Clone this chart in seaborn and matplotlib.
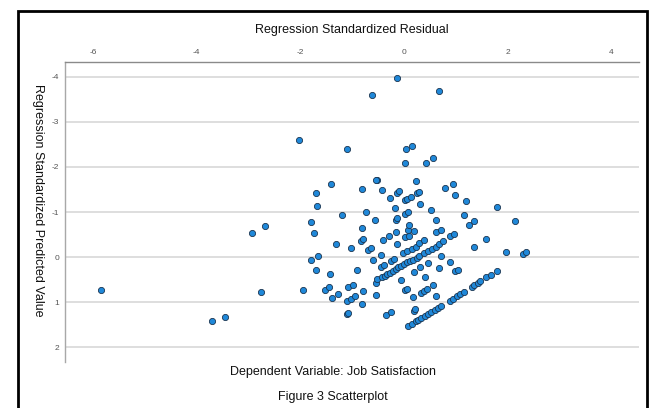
import matplotlib
matplotlib.use("Agg")
import matplotlib.pyplot as plt
import matplotlib.patches as mpatches
import seaborn as sns
import pandas as pd

# Regression Standardized Residual (x) and Regression Standardized Predicted Value (y)
residual = [
    -5.85, -3.71, -3.46, -2.93, -2.68, -2.76, -2.03, -0.62, -0.14, 0.68,
    -1.10, 0.05, 0.15, 0.02, -1.41, -1.69, -1.68, -1.19, -1.80, -1.73,
    -0.80, -0.52, -0.54, -0.42, -0.73, -0.56, -0.81, -1.31, -1.02, -0.83,
    -0.78, -0.70, -0.63, -1.80, -1.66, -1.70, -1.43, -1.95, -1.53, -1.45,
    -1.39, -1.27, -1.08, -0.99, -1.09, -1.02, -0.94, -0.91, -0.80, -0.78,
    -1.09, -1.08, -0.53, -0.54, -0.35, -0.24, -0.60, -0.45, -0.40, -0.28,
    -0.27, -0.14, -0.10, -0.17, -0.16, -0.13, -0.16, -0.13, -0.24, -0.19,
    -0.44, -0.38, -0.06, 0.02, 0.06, 0.17, 0.19, 0.19, 0.22, 0.08,
    0.20, 0.02, 0.10, 0.02, 0.08, 0.10, 0.02, 0.06, 0.13, 0.23,
    0.26, 0.29, -0.01, 0.06, 0.15, 0.23,
    -0.52, -0.43, -0.37, -0.32, -0.27, -0.21, -0.15, -0.11, -0.06, 0.01,
    0.06, 0.12, 0.18, 0.25, 0.30, 0.39, 0.47, 0.55, 0.62, 0.68, 0.75,
    0.42, 0.57, 0.32, 0.53, 0.63, 0.62, 0.71, 0.30, 0.39, 0.90,
    0.97, 0.71, 0.32, 0.47, 0.41, 0.68, 0.89, 0.98, 1.04, 0.57,
    0.33, 0.39, 0.45, 0.62,
    0.08, 0.15, 0.23, 0.28, 0.34, 0.41, 0.47, 0.53, 0.60, 0.66, 0.71,
    0.89, 0.95, 1.02, 1.08, 1.16, 1.31, 1.35, 1.43, 1.47, 1.58, 1.69, 1.80,
    0.80, 0.94, 0.98, 1.20, 1.16, 1.25, 1.35, 1.35, 1.58, 1.80,
    2.14, 1.97, 2.30, 2.36,
]
predicted = [
    0.74, 1.43, 1.32, -0.54, -0.70, 0.77, -2.59, -3.59, -3.97, -3.68,
    -2.41, -2.40, -2.46, -2.08, -1.63, -1.43, -1.14, -0.93, -0.78, -0.54,
    -1.51, -1.72, -1.70, -1.48, -0.99, -0.83, -0.65, -0.28, -0.21, -0.36,
    -0.40, -0.16, -0.21, 0.06, -0.03, 0.28, 0.37, 0.74, 0.73, 0.67,
    0.91, 0.82, 0.67, 0.61, 0.97, 0.92, 0.86, 0.28, 1.05, 0.75,
    1.26, 1.24, 0.85, 0.58, 1.29, 1.21, 0.06, -0.05, -0.38, -0.46,
    -1.32, -1.43, -1.46, -1.10, -0.83, -0.86, -0.55, -0.28, 0.08, 0.04,
    0.23, 0.18, 0.52, 0.74, 0.71, 0.89, 0.34, 1.19, 1.15, -0.59,
    -0.57, -0.44, -0.46, -0.96, -1.01, -0.72, -1.26, -1.28, -1.33, -1.68,
    -1.42, -1.44, -0.08, -0.13, -0.19, -0.23,
    0.48, 0.45, 0.42, 0.37, 0.35, 0.30, 0.26, 0.23, 0.19, 0.15,
    0.12, 0.09, 0.06, 0.01, -0.03, -0.09, -0.14, -0.18, -0.23, -0.29, -0.35,
    -2.09, -2.21, -1.18, -1.05, -0.83, -0.55, -0.61, -0.31, -0.37, -0.46,
    -0.52, -0.03, 0.23, 0.14, 0.45, 0.25, 0.12, 0.32, 0.28, 0.62,
    0.80, 0.76, 0.72, 0.87,
    1.54, 1.48, 1.43, 1.40, 1.35, 1.30, 1.26, 1.22, 1.17, 1.13, 1.08,
    0.97, 0.92, 0.87, 0.82, 0.77, 0.66, 0.62, 0.57, 0.54, 0.45, 0.39, 0.30,
    -1.53, -1.63, -1.37, -1.24, -0.94, -0.72, -0.80, -0.23, -0.40, -1.12,
    -0.80, -0.12, -0.07, -0.11,
]
x_ticks = [-6, -4, -2, 0, 2, 4]
y_ticks = [-4, -3, -2, -1, 0, 1, 2]

x_title = "Regression Standardized Residual"
y_title = "Regression Standardized Predicted Value"
subtitle = "Dependent Variable: Job Satisfaction"
caption = "Figure 3 Scatterplot"

df = pd.DataFrame({"residual": residual, "predicted": predicted})

sns.set_style("white")
plt.rcParams["font.family"] = ["Liberation Sans", "DejaVu Sans"]

fig = plt.figure(figsize=(6.49, 4.08), dpi=100)
ax = fig.add_axes([0.1002, 0.1127, 0.8844, 0.7353])

for yt in y_ticks:
    ax.axhline(yt, color="#d4d4d4", lw=1.1, zorder=0)

sns.scatterplot(data=df, x="residual", y="predicted", ax=ax,
                color="#1f88d9", edgecolor="#1b3550", linewidth=0.6,
                s=20, zorder=3, legend=False)

ax.set_xlim(-6.54, 4.54)
ax.set_ylim(2.33, -4.33)
ax.set_xticks(x_ticks)
ax.set_yticks(y_ticks)
ax.set_xticklabels([str(v) for v in x_ticks])
ax.set_yticklabels([str(v) for v in y_ticks])
ax.xaxis.tick_top()
ax.tick_params(axis="both", length=0, labelsize=6, colors="#555555")
ax.tick_params(axis="x", pad=4)
ax.tick_params(axis="y", pad=4)
ax.set_xlabel("")
ax.set_ylabel("")

for side in ["bottom", "right"]:
    ax.spines[side].set_visible(False)
ax.spines["top"].set_color("#8a8a8a")
ax.spines["top"].set_linewidth(1.0)
ax.spines["left"].set_color("#a8a8a8")
ax.spines["left"].set_linewidth(1.0)

fig.text(352 / 649, 1 - 30 / 408, x_title, ha="center", va="center", fontsize=9, color="#111111")
fig.text(38 / 649, 1 - 200 / 408, y_title, ha="center", va="center", rotation=270,
         fontsize=9, color="#111111")
fig.text(333 / 649, 1 - 372 / 408, subtitle, ha="center", va="center", fontsize=9, color="#111111")
fig.text(333 / 649, 1 - 397 / 408, caption, ha="center", va="center", fontsize=9, color="#111111")

frame = mpatches.Rectangle((18 / 649, -0.05), (647 - 18) / 649, 1 - 11 / 408 + 0.05,
                           transform=fig.transFigure, fill=False, edgecolor="black",
                           linewidth=2.0, zorder=10)
fig.patches.append(frame)

fig.savefig("out.png", dpi=100)
